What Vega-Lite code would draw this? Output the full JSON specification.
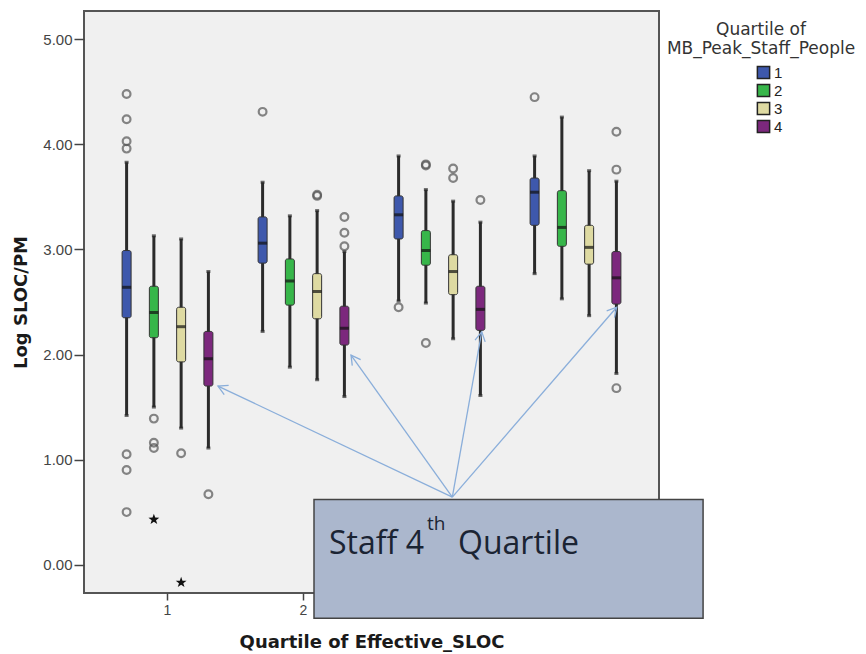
{
  "$schema": "https://vega.github.io/schema/vega-lite/v6.json",
  "width": 575,
  "height": 582,
  "autosize": "none",
  "padding": {"left": 84, "top": 11, "right": 207, "bottom": 61},
  "background": "#ffffff",
  "datasets": {
    "boxes": [
      {"sloc": "1", "staff": "1", "lo": 1.42, "q1": 2.35, "med": 2.64, "q3": 2.99, "hi": 3.83},
      {"sloc": "1", "staff": "2", "lo": 1.50, "q1": 2.16, "med": 2.40, "q3": 2.65, "hi": 3.13},
      {"sloc": "1", "staff": "3", "lo": 1.30, "q1": 1.93, "med": 2.265, "q3": 2.45, "hi": 3.10},
      {"sloc": "1", "staff": "4", "lo": 1.11, "q1": 1.70, "med": 1.96, "q3": 2.22, "hi": 2.79},
      {"sloc": "2", "staff": "1", "lo": 2.22, "q1": 2.87, "med": 3.06, "q3": 3.31, "hi": 3.64},
      {"sloc": "2", "staff": "2", "lo": 1.88, "q1": 2.47, "med": 2.70, "q3": 2.91, "hi": 3.32},
      {"sloc": "2", "staff": "3", "lo": 1.76, "q1": 2.34, "med": 2.60, "q3": 2.77, "hi": 3.37},
      {"sloc": "2", "staff": "4", "lo": 1.60, "q1": 2.09, "med": 2.25, "q3": 2.46, "hi": 2.98},
      {"sloc": "3", "staff": "1", "lo": 2.51, "q1": 3.10, "med": 3.33, "q3": 3.51, "hi": 3.89},
      {"sloc": "3", "staff": "2", "lo": 2.49, "q1": 2.85, "med": 2.99, "q3": 3.18, "hi": 3.57},
      {"sloc": "3", "staff": "3", "lo": 2.15, "q1": 2.57, "med": 2.79, "q3": 2.95, "hi": 3.46},
      {"sloc": "3", "staff": "4", "lo": 1.61, "q1": 2.23, "med": 2.43, "q3": 2.65, "hi": 3.26},
      {"sloc": "4", "staff": "1", "lo": 2.77, "q1": 3.23, "med": 3.545, "q3": 3.68, "hi": 3.89},
      {"sloc": "4", "staff": "2", "lo": 2.53, "q1": 3.03, "med": 3.21, "q3": 3.56, "hi": 4.26},
      {"sloc": "4", "staff": "3", "lo": 2.37, "q1": 2.86, "med": 3.02, "q3": 3.23, "hi": 3.75},
      {"sloc": "4", "staff": "4", "lo": 1.82, "q1": 2.48, "med": 2.73, "q3": 2.98, "hi": 3.65}
    ],
    "outliers": [
      {"sloc": "1", "staff": "1", "value": 4.48, "kind": "o"},
      {"sloc": "1", "staff": "1", "value": 4.24, "kind": "o"},
      {"sloc": "1", "staff": "1", "value": 4.03, "kind": "o"},
      {"sloc": "1", "staff": "1", "value": 3.96, "kind": "o"},
      {"sloc": "1", "staff": "1", "value": 1.05, "kind": "o"},
      {"sloc": "1", "staff": "1", "value": 0.90, "kind": "o"},
      {"sloc": "1", "staff": "1", "value": 0.50, "kind": "o"},
      {"sloc": "1", "staff": "2", "value": 1.39, "kind": "o"},
      {"sloc": "1", "staff": "2", "value": 1.16, "kind": "o"},
      {"sloc": "1", "staff": "2", "value": 1.11, "kind": "o"},
      {"sloc": "1", "staff": "2", "value": 0.43, "kind": "x"},
      {"sloc": "1", "staff": "3", "value": 1.06, "kind": "o"},
      {"sloc": "1", "staff": "3", "value": -0.17, "kind": "x"},
      {"sloc": "1", "staff": "4", "value": 0.67, "kind": "o"},
      {"sloc": "2", "staff": "1", "value": 4.31, "kind": "o"},
      {"sloc": "2", "staff": "3", "value": 3.51, "kind": "o"},
      {"sloc": "2", "staff": "3", "value": 3.52, "kind": "o"},
      {"sloc": "2", "staff": "4", "value": 3.31, "kind": "o"},
      {"sloc": "2", "staff": "4", "value": 3.16, "kind": "o"},
      {"sloc": "2", "staff": "4", "value": 3.03, "kind": "o"},
      {"sloc": "3", "staff": "1", "value": 2.45, "kind": "o"},
      {"sloc": "3", "staff": "2", "value": 3.80, "kind": "o"},
      {"sloc": "3", "staff": "2", "value": 3.81, "kind": "o"},
      {"sloc": "3", "staff": "2", "value": 2.11, "kind": "o"},
      {"sloc": "3", "staff": "3", "value": 3.77, "kind": "o"},
      {"sloc": "3", "staff": "3", "value": 3.68, "kind": "o"},
      {"sloc": "3", "staff": "4", "value": 3.47, "kind": "o"},
      {"sloc": "4", "staff": "1", "value": 4.45, "kind": "o"},
      {"sloc": "4", "staff": "4", "value": 4.12, "kind": "o"},
      {"sloc": "4", "staff": "4", "value": 3.76, "kind": "o"},
      {"sloc": "4", "staff": "4", "value": 1.68, "kind": "o"}
    ],
    "arrows": [
      {"ax": 3.096, "ay": 0.643, "ax2": 1.368, "ay2": 1.70, "bearing": -64.6},
      {"ax": 3.096, "ay": 0.643, "ax2": 2.349, "ay2": 1.995, "bearing": -35.5},
      {"ax": 3.096, "ay": 0.643, "ax2": 3.313, "ay2": 2.217, "bearing": 10.1},
      {"ax": 3.096, "ay": 0.643, "ax2": 4.308, "ay2": 2.45, "bearing": 40.9}
    ],
    "callout": [
      {"ax": 2.076, "ax2": 4.945, "ay": 0.621, "ay2": -0.51}
    ],
    "calloutText": [
      {"ax": 2.187, "ay": 0.10, "label": "Staff 4", "part": "main"},
      {"ax": 2.909, "ay": 0.329, "label": "th", "part": "sup"},
      {"ax": 3.138, "ay": 0.10, "label": "Quartile", "part": "main"}
    ]
  },
  "layer": [
    {
      "encoding": {
        "x": {
          "field": "sloc", "type": "nominal",
          "scale": {"domain": ["1", "2", "3", "4"], "paddingInner": 0.2, "paddingOuter": 0.214},
          "axis": {"title": "Quartile of Effective_SLOC", "labelAngle": 0}
        },
        "xOffset": {
          "field": "staff", "type": "nominal",
          "scale": {"domain": ["1", "2", "3", "4"], "paddingInner": 0.67, "paddingOuter": 0.33}
        }
      },
      "layer": [
        {
          "data": {"name": "boxes"},
          "mark": {"type": "rule", "color": "#2b2b2b", "strokeWidth": 3},
          "encoding": {
            "y": {"field": "lo", "type": "quantitative", "title": "Log SLOC/PM",
              "scale": {"domain": [-0.27, 5.27], "nice": false, "zero": false},
              "axis": {"values": [0, 1, 2, 3, 4, 5], "format": ".2f"}},
            "y2": {"field": "hi"}
          }
        },
        {
          "data": {"name": "boxes"},
          "mark": {"type": "tick", "color": "#2b2b2b", "size": 4, "thickness": 3},
          "encoding": {
            "y": {"field": "lo", "type": "quantitative", "title": "Log SLOC/PM",
              "scale": {"domain": [-0.27, 5.27], "nice": false, "zero": false}}
          }
        },
        {
          "data": {"name": "boxes"},
          "mark": {"type": "tick", "color": "#2b2b2b", "size": 4, "thickness": 3},
          "encoding": {
            "y": {"field": "hi", "type": "quantitative", "title": "Log SLOC/PM",
              "scale": {"domain": [-0.27, 5.27], "nice": false, "zero": false}}
          }
        },
        {
          "data": {"name": "boxes"},
          "mark": {"type": "bar", "stroke": "#333333", "strokeWidth": 1, "cornerRadius": 2},
          "encoding": {
            "y": {"field": "q1", "type": "quantitative", "title": "Log SLOC/PM",
              "scale": {"domain": [-0.27, 5.27], "nice": false, "zero": false}},
            "y2": {"field": "q3"},
            "color": {
              "field": "staff", "type": "nominal",
              "scale": {"domain": ["1", "2", "3", "4"], "range": ["#3E58AC", "#37B64A", "#DEDAA2", "#7C287D"]},
              "legend": {
                "title": ["Quartile of", "MB_Peak_Staff_People"],
                "orient": "none", "legendX": 583, "legendY": 11,
                "titleFont": "DejaVu Sans", "titleFontSize": 17, "titleFontWeight": "normal",
                "titleColor": "#333333", "titleAlign": "center", "titleAnchor": "middle",
                "titleLineHeight": 19, "titlePadding": 7, "titleLimit": 400,
                "symbolType": "square", "symbolSize": 150, "symbolStrokeColor": "#222222",
                "symbolStrokeWidth": 1.5, "symbolOffset": 17,
                "labelFont": "Liberation Sans", "labelFontSize": 15, "labelColor": "#222222",
                "labelOffset": 3, "rowPadding": -1
              }
            }
          }
        },
        {
          "data": {"name": "boxes"},
          "mark": {"type": "tick", "color": "#111111", "size": 9, "thickness": 3},
          "encoding": {
            "y": {"field": "med", "type": "quantitative", "title": "Log SLOC/PM",
              "scale": {"domain": [-0.27, 5.27], "nice": false, "zero": false}}
          }
        },
        {
          "data": {"name": "outliers"},
          "transform": [{"filter": "datum.kind == 'o'"}],
          "mark": {"type": "point", "shape": "circle", "filled": false, "stroke": "#555555", "strokeWidth": 2.2, "size": 60},
          "encoding": {
            "y": {"field": "value", "type": "quantitative", "title": "Log SLOC/PM",
              "scale": {"domain": [-0.27, 5.27], "nice": false, "zero": false}}
          }
        },
        {
          "data": {"name": "outliers"},
          "transform": [{"filter": "datum.kind == 'x'"}],
          "mark": {"type": "point", "shape": "M0,-1L0.235,-0.324L0.951,-0.309L0.38,0.124L0.588,0.809L0,0.4L-0.588,0.809L-0.38,0.124L-0.951,-0.309L-0.235,-0.324Z", "filled": true, "fill": "#111111", "strokeWidth": 0, "size": 130, "opacity": 1},
          "encoding": {
            "y": {"field": "value", "type": "quantitative", "title": "Log SLOC/PM",
              "scale": {"domain": [-0.27, 5.27], "nice": false, "zero": false}}
          }
        }
      ]
    },
    {
      "layer": [
        {
          "data": {"name": "arrows"},
          "mark": {"type": "rule", "color": "#8AAEDA", "strokeWidth": 1.3, "clip": false},
          "encoding": {
            "x": {"field": "ax", "type": "quantitative", "scale": {"domain": [0.38, 4.62], "nice": false, "zero": false}, "axis": null},
            "x2": {"field": "ax2"},
            "y": {"field": "ay", "type": "quantitative", "title": "Log SLOC/PM",
              "scale": {"domain": [-0.27, 5.27], "nice": false, "zero": false}},
            "y2": {"field": "ay2"}
          }
        },
        {
          "data": {"name": "arrows"},
          "mark": {"type": "point", "shape": "M-0.55,1L0,0L0.55,1", "filled": false, "stroke": "#8AAEDA", "strokeWidth": 1.3, "size": 350, "opacity": 1, "clip": false},
          "encoding": {
            "x": {"field": "ax2", "type": "quantitative", "scale": {"domain": [0.38, 4.62], "nice": false, "zero": false}, "axis": null},
            "y": {"field": "ay2", "type": "quantitative", "title": "Log SLOC/PM",
              "scale": {"domain": [-0.27, 5.27], "nice": false, "zero": false}},
            "angle": {"field": "bearing", "type": "quantitative", "scale": null}
          }
        },
        {
          "data": {"name": "callout"},
          "mark": {"type": "rect", "fill": "#ABB7CD", "stroke": "#444444", "strokeWidth": 1.5, "clip": false},
          "encoding": {
            "x": {"field": "ax", "type": "quantitative", "scale": {"domain": [0.38, 4.62], "nice": false, "zero": false}, "axis": null},
            "x2": {"field": "ax2"},
            "y": {"field": "ay", "type": "quantitative", "title": "Log SLOC/PM",
              "scale": {"domain": [-0.27, 5.27], "nice": false, "zero": false}},
            "y2": {"field": "ay2"}
          }
        },
        {
          "data": {"name": "calloutText"},
          "transform": [{"filter": "datum.part == 'main'"}],
          "mark": {"type": "text", "font": "Open Sans", "fontSize": 32, "color": "#1B2433", "align": "left", "baseline": "alphabetic", "clip": false},
          "encoding": {
            "x": {"field": "ax", "type": "quantitative", "scale": {"domain": [0.38, 4.62], "nice": false, "zero": false}, "axis": null},
            "y": {"field": "ay", "type": "quantitative", "title": "Log SLOC/PM",
              "scale": {"domain": [-0.27, 5.27], "nice": false, "zero": false}},
            "text": {"field": "label"}
          }
        },
        {
          "data": {"name": "calloutText"},
          "transform": [{"filter": "datum.part == 'sup'"}],
          "mark": {"type": "text", "font": "Open Sans", "fontSize": 19, "color": "#1B2433", "align": "left", "baseline": "alphabetic", "clip": false},
          "encoding": {
            "x": {"field": "ax", "type": "quantitative", "scale": {"domain": [0.38, 4.62], "nice": false, "zero": false}, "axis": null},
            "y": {"field": "ay", "type": "quantitative", "title": "Log SLOC/PM",
              "scale": {"domain": [-0.27, 5.27], "nice": false, "zero": false}},
            "text": {"field": "label"}
          }
        }
      ]
    }
  ],
  "resolve": {"scale": {"x": "independent"}, "axis": {"x": "independent"}},
  "config": {
    "view": {"fill": "#F0F0F0", "stroke": "#555555", "strokeWidth": 2},
    "axis": {
      "domain": false, "grid": false,
      "labelFont": "Liberation Sans", "labelColor": "#444444",
      "tickColor": "#444444", "tickWidth": 1.5,
      "titleFont": "DejaVu Sans", "titleFontWeight": "bold", "titleFontSize": 18, "titleColor": "#1a1a1a"
    },
    "axisY": {"labelFontSize": 15, "tickSize": 10, "labelPadding": 2, "titlePadding": 12},
    "axisX": {"labelFontSize": 14, "tickSize": 7, "labelPadding": 3, "titlePadding": 16}
  }
}
